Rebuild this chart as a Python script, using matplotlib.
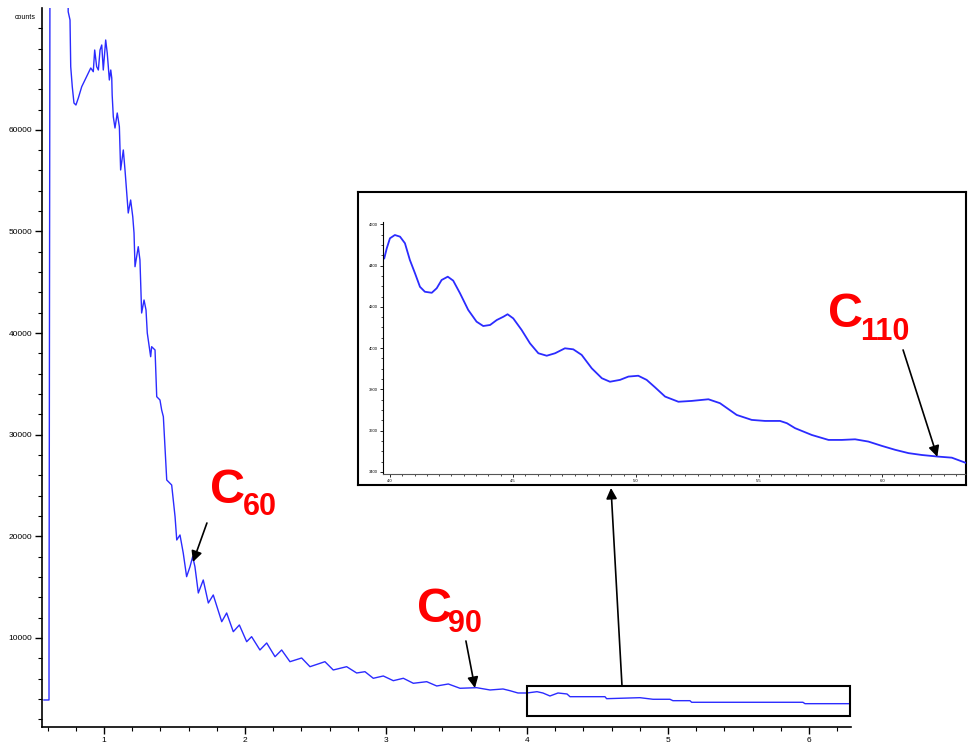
import matplotlib.pyplot as plt
from matplotlib.patches import Rectangle
from matplotlib.ticker import MultipleLocator

plt.rcParams['font.family'] = ['Liberation Sans', 'DejaVu Sans']

# full spectrum
tof = [0.574, 0.610, 0.610, 0.617, 0.745, 0.746, 0.759, 0.764, 0.775, 0.787,
       0.801, 0.818, 0.842, 0.865, 0.889, 0.906, 0.924, 0.934, 0.948, 0.960,
       0.972, 0.984, 0.995, 1.012, 1.023, 1.038, 1.048, 1.055, 1.058, 1.066,
       1.078, 1.094, 1.109, 1.118, 1.137, 1.149, 1.172, 1.189, 1.204, 1.213,
       1.220, 1.243, 1.255, 1.267, 1.284, 1.298, 1.307, 1.331, 1.338, 1.362,
       1.374, 1.397, 1.409, 1.421, 1.445, 1.480, 1.504, 1.516, 1.539, 1.562,
       1.586, 1.610, 1.629, 1.645, 1.669, 1.704, 1.740, 1.775, 1.835, 1.870,
       1.917, 1.960, 2.012, 2.047, 2.106, 2.154, 2.213, 2.260, 2.319, 2.402,
       2.461, 2.567, 2.626, 2.721, 2.792, 2.851, 2.910, 2.981, 3.052, 3.123,
       3.194, 3.289, 3.360, 3.442, 3.525, 3.643, 3.738, 3.830, 3.879, 3.936,
       4.000, 4.071, 4.113, 4.163, 4.220, 4.284, 4.305, 4.553, 4.565, 4.801,
       4.894, 5.014, 5.035, 5.156, 5.168, 5.957, 5.972, 6.291]
counts = [3897, 3897, 7045, 78000, 78000, 71625, 70809, 66213, 64245, 62641,
          62444, 63133, 64245, 64905, 65594, 66086, 65722, 67856, 66213, 65889,
          67856, 68349, 65889, 68841, 67562, 64905, 65889, 65102, 63429, 61294,
          60181, 61657, 60310, 56051, 58019, 56051, 51817, 53096, 51453, 49849,
          46533, 48501, 47193, 41977, 43257, 42273, 40009, 37677, 38661, 38337,
          33741, 33416, 32432, 31773, 25543, 25051, 21933, 19641, 20133, 18362,
          16030, 17013, 17997, 17013, 14425, 15705, 13441, 14229, 11601, 12457,
          10617, 11277, 9633, 10125, 8817, 9505, 8157, 8817, 7665, 8029,
          7173, 7665, 6849, 7173, 6553, 6681, 6032, 6258, 5796, 6032,
          5540, 5697, 5274, 5471, 5048, 5107, 4881, 4979, 4812, 4585,
          4585, 4713, 4585, 4290, 4585, 4487, 4221, 4221, 4025, 4123,
          3966, 3966, 3828, 3828, 3670, 3670, 3533, 3533]

# expanded tail, 4 - 6.3
tail_tof = [3.977, 3.987, 4.000, 4.020, 4.041, 4.061, 4.081, 4.102, 4.122, 4.142,
            4.170, 4.190, 4.210, 4.235, 4.257, 4.285, 4.318, 4.352, 4.379, 4.407,
            4.434, 4.461, 4.478, 4.501, 4.535, 4.569, 4.603, 4.637, 4.671, 4.711,
            4.745, 4.779, 4.820, 4.861, 4.894, 4.935, 4.969, 5.009, 5.043, 5.077,
            5.118, 5.172, 5.226, 5.294, 5.341, 5.409, 5.470, 5.524, 5.585, 5.613,
            5.646, 5.714, 5.782, 5.836, 5.890, 5.944, 5.999, 6.053, 6.107, 6.161,
            6.229, 6.283, 6.344]
tail_counts = [4435, 4483, 4532, 4548, 4540, 4508, 4427, 4362, 4297, 4273,
               4268, 4290, 4330, 4346, 4327, 4265, 4185, 4128, 4107, 4112,
               4136, 4152, 4164, 4144, 4088, 4023, 3975, 3963, 3975, 3999,
               3994, 3967, 3902, 3854, 3837, 3846, 3862, 3866, 3846, 3810,
               3765, 3740, 3744, 3752, 3733, 3676, 3652, 3647, 3647, 3636,
               3612, 3579, 3555, 3555, 3558, 3547, 3526, 3507, 3491, 3482,
               3474, 3469, 3442]

x_ticks = [1, 2, 3, 4, 5, 6]
y_ticks = [10000, 20000, 30000, 40000, 50000, 60000]
inset_x_ticks = [4, 4.5, 5, 5.5, 6]
inset_y_ticks = [3400, 3600, 3800, 4000, 4200, 4400, 4600]

blue = '#2b2bff'
red = '#ff0000'

fig = plt.figure(figsize=(9.69, 7.47), dpi=100)

ax = fig.add_axes([0.0433, 0.0268, 0.8349, 0.9625])
ax.plot(tof, counts, color=blue, lw=1.0)
ax.set_xlim(0.56, 6.298)
ax.set_ylim(1240, 71990)
for s in ['top', 'right']:
    ax.spines[s].set_visible(False)
for s in ['left', 'bottom']:
    ax.spines[s].set_linewidth(1.2)
ax.set_xticks(x_ticks)
ax.set_yticks(y_ticks)
ax.xaxis.set_minor_locator(MultipleLocator(0.2))
ax.yaxis.set_minor_locator(MultipleLocator(2000))
ax.tick_params(which='major', length=5, width=1, labelsize=6, pad=2)
ax.tick_params(which='minor', length=3, width=0.8)
ax.text(-0.008, 0.987, 'counts', transform=ax.transAxes, fontsize=5,
        ha='right', va='center')

# window that gets blown up
ax.add_patch(Rectangle((4.0, 2322), 2.29, 2952, fill=False, lw=1.5,
                       ec='black', clip_on=False, zorder=3))

arrow = dict(arrowstyle='-|>', color='black', lw=1.2, mutation_scale=16,
             shrinkA=0, shrinkB=0)

ax.annotate('', xy=(1.631, 17476), xytext=(1.730, 21313), arrowprops=arrow)
ax.text(1.752, 23281, 'C', color=red, fontsize=35, fontweight='bold',
        ha='left', va='baseline')
ax.text(1.986, 22106, '60', color=red, fontsize=22, fontweight='bold',
        ha='left', va='baseline')

ax.annotate('', xy=(3.631, 5077), xytext=(3.567, 9702), arrowprops=arrow)
ax.text(3.220, 11572, 'C', color=red, fontsize=35, fontweight='bold',
        ha='left', va='baseline')
ax.text(3.440, 10588, '90', color=red, fontsize=22, fontweight='bold',
        ha='left', va='baseline')

# inset frame
frame = fig.add_axes([0.3695, 0.3507, 0.6275, 0.3922])
frame.set_xticks([])
frame.set_yticks([])
for s in frame.spines.values():
    s.set_linewidth(1.5)

inset = fig.add_axes([0.3953, 0.3655, 0.6017, 0.3373])
inset.set_facecolor('none')
inset.plot(tail_tof, tail_counts, color=blue, lw=1.3)
inset.set_xlim(3.972, 6.341)
inset.set_ylim(3390, 4611)
for s in ['top', 'right']:
    inset.spines[s].set_visible(False)
inset.spines['left'].set_linewidth(0.8)
inset.spines['bottom'].set_linewidth(0.8)
inset.spines['bottom'].set_linestyle((0, (1.5, 1)))
inset.spines['bottom'].set_color('#555555')
inset.set_xticks(inset_x_ticks)
inset.set_yticks(inset_y_ticks)
inset.xaxis.set_minor_locator(MultipleLocator(0.05))
inset.yaxis.set_minor_locator(MultipleLocator(50))
inset.tick_params(which='major', length=2.5, width=0.6, labelsize=3, pad=1)
inset.tick_params(which='minor', length=1.2, width=0.5)

inset.annotate('', xy=(6.224, 3473), xytext=(6.085, 3991), arrowprops=arrow)
inset.text(5.780, 4102, 'C', color=red, fontsize=35, fontweight='bold',
           ha='left', va='baseline')
inset.text(5.911, 4039, '110', color=red, fontsize=22, fontweight='bold',
           ha='left', va='baseline')

frame.annotate('', xy=(0.416, -0.01), xycoords='axes fraction',
               xytext=(4.674, 5274), textcoords=ax.transData,
               arrowprops=arrow, annotation_clip=False)

fig.savefig('out.png', dpi=100)
